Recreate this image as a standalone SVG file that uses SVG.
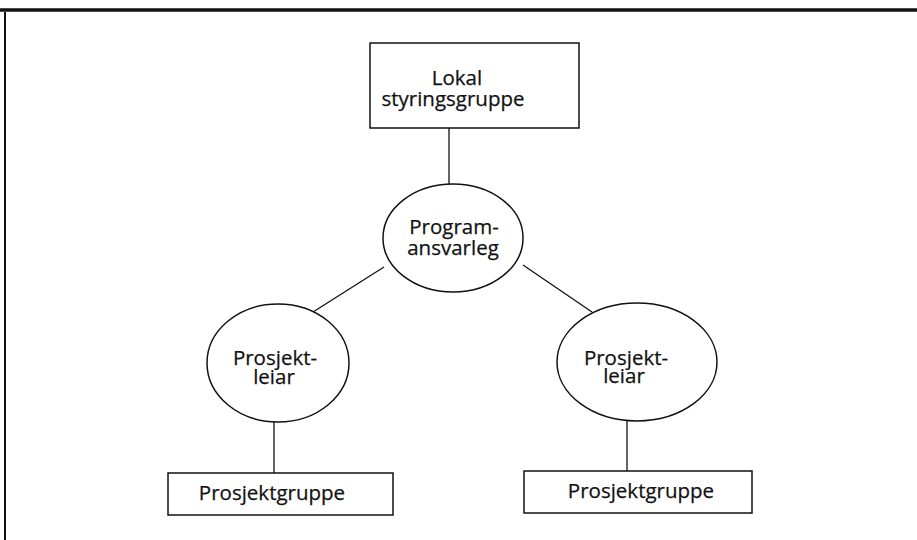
<svg xmlns="http://www.w3.org/2000/svg" width="917" height="540" viewBox="0 0 917 540">
<style>
.box{fill:#fff;stroke:#111;stroke-width:1.5}
.ell{fill:#fff;stroke:#111;stroke-width:1.5}
.ln{stroke:#111;stroke-width:1.3;fill:none}
text{font-family:"Open Sans","Noto Sans","Liberation Sans",sans-serif;font-size:20.5px;fill:#111;text-anchor:middle;stroke:#111;stroke-width:0.25}
</style>
<rect width="917" height="540" fill="#fff"/>
<g id="frame">
<line x1="0" y1="10" x2="917" y2="10" stroke="#111" stroke-width="3.5"/>
<line x1="5" y1="12" x2="5" y2="540" stroke="#111" stroke-width="2"/>
</g>
<g id="connectors">
<line class="ln" x1="449" y1="128" x2="449" y2="185"/>
<line class="ln" x1="384" y1="267" x2="313" y2="312"/>
<line class="ln" x1="523" y1="265" x2="592" y2="312"/>
<line class="ln" x1="274" y1="422" x2="274" y2="473"/>
<line class="ln" x1="627" y1="421" x2="627" y2="471"/>
</g>
<g id="lokal-styringsgruppe">
<rect class="box" x="370" y="43" width="209" height="85"/>
<text x="457" y="85"><tspan x="457">Lokal</tspan><tspan x="453" dy="21">styringsgruppe</tspan></text>
</g>
<g id="programansvarleg">
<ellipse class="ell" cx="453" cy="238" rx="70" ry="54"/>
<text x="454" y="234"><tspan x="454">Program-</tspan><tspan x="453" dy="21">ansvarleg</tspan></text>
</g>
<g id="prosjektleiar-left">
<ellipse class="ell" cx="278" cy="363" rx="71" ry="59"/>
<text x="275" y="365"><tspan x="275">Prosjekt-</tspan><tspan x="274" dy="19">leiar</tspan></text>
</g>
<g id="prosjektleiar-right">
<ellipse class="ell" cx="637" cy="362" rx="80" ry="59"/>
<text x="626" y="365"><tspan x="626">Prosjekt-</tspan><tspan x="624" dy="18">leiar</tspan></text>
</g>
<g id="prosjektgruppe-left">
<rect class="box" x="168" y="473" width="225" height="42"/>
<text x="272" y="500">Prosjektgruppe</text>
</g>
<g id="prosjektgruppe-right">
<rect class="box" x="524" y="471" width="228" height="42"/>
<text x="641" y="498">Prosjektgruppe</text>
</g>
</svg>
